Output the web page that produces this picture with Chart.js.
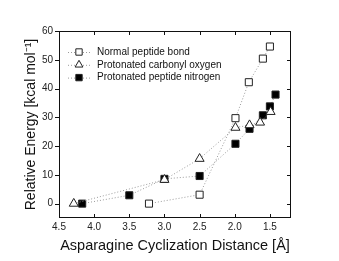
<!DOCTYPE html>
<html>
<head>
<meta charset="utf-8">
<script src="https://cdn.jsdelivr.net/npm/chart.js@4/dist/chart.umd.min.js"></script>
<style>
  html, body { margin: 0; padding: 0; background: #fff; }
  #chart { display: block; }
</style>
</head>
<body>
<canvas id="chart" width="339" height="261"></canvas>
<script>
// values
const seriesNames = ["Normal peptide bond", "Protonated carbonyl oxygen", "Protonated peptide nitrogen"];

const normalX = [3.22, 2.5, 1.99, 1.8, 1.6, 1.5];
const normalY = [0, 3.1, 29.7, 42.2, 50.4, 54.6];

const carbonylX = [4.29, 3.0, 2.5, 1.99, 1.79, 1.64, 1.49];
const carbonylY = [0, 8.3, 15.6, 26.4, 27.3, 28.2, 31.9];

const nitrogenX = [4.17, 3.5, 3.0, 2.5, 1.99, 1.79, 1.6, 1.5, 1.42];
const nitrogenY = [0, 2.9, 8.6, 9.6, 20.8, 26, 30.7, 33.8, 37.9];

const xTicks = [1.5, 2.0, 2.5, 3.0, 3.5, 4.0, 4.5];
const yTicks = [0, 10, 20, 30, 40, 50, 60];

const FONT = "'Liberation Sans', Arial, sans-serif";

function toPoints(xs, ys) {
	return xs.map((x, i) => ({ x: x, y: ys[i] }));
}

function makeSet(label, xs, ys, style, fill) {
	return {
		label: label,
		data: toPoints(xs, ys),
		showLine: true,
		borderColor: "#9a9a9a",
		borderWidth: 1,
		borderDash: [1, 2],
		pointStyle: style,
		pointRadius: style == "triangle" ? 5.2 : 5,
		pointBackgroundColor: fill,
		pointBorderColor: "#222",
		pointBorderWidth: 1
	};
}

// frame, tick marks and the legend inside the plot
const framePlugin = {
	id: "frame",
	afterDraw(chart) {
		const ctx = chart.ctx;
		const a = chart.chartArea;
		const sx = chart.scales.x;
		const sy = chart.scales.y;
		ctx.save();
		ctx.setLineDash([]);
		ctx.strokeStyle = "#111";
		ctx.lineWidth = 1;
		ctx.strokeRect(a.left + 0.5, a.top + 0.5, a.right - a.left - 1, a.bottom - a.top - 1);

		ctx.beginPath();
		xTicks.forEach((v) => {
			let px = Math.round(sx.getPixelForValue(v)) + 0.5;
			ctx.moveTo(px, a.bottom);
			ctx.lineTo(px, a.bottom - 4);
			ctx.moveTo(px, a.top);
			ctx.lineTo(px, a.top + 4);
		});
		yTicks.forEach((v) => {
			let py = Math.round(sy.getPixelForValue(v)) + 0.5;
			ctx.moveTo(a.left - 4, py);
			ctx.lineTo(a.left, py);
			ctx.moveTo(a.right - 4, py);
			ctx.lineTo(a.right, py);
		});
		ctx.stroke();

		// legend
		let rowY = a.top + 21;
		chart.data.datasets.forEach((ds) => {
			ctx.setLineDash([1, 2]);
			ctx.strokeStyle = "#9a9a9a";
			ctx.beginPath();
			ctx.moveTo(a.left + 9, rowY + 0.5);
			ctx.lineTo(a.left + 32, rowY + 0.5);
			ctx.stroke();
			ctx.setLineDash([]);
			ctx.fillStyle = ds.pointBackgroundColor;
			ctx.strokeStyle = "#222";
			ctx.lineWidth = 1;
			Chart.helpers.drawPoint(ctx, {
				pointStyle: ds.pointStyle,
				radius: 4.5,
				rotation: 0,
				borderWidth: 1
			}, a.left + 20, rowY);
			ctx.fillStyle = "#111";
			ctx.font = "10px " + FONT;
			ctx.textBaseline = "middle";
			ctx.textAlign = "left";
			ctx.fillText(ds.label, a.left + 38, rowY);
			rowY += 12.8;
		});
		ctx.restore();
	}
};

new Chart(document.getElementById("chart"), {
	type: "scatter",
	data: {
		datasets: [
			makeSet(seriesNames[0], normalX, normalY, "rect", "#fff"),
			makeSet(seriesNames[1], carbonylX, carbonylY, "triangle", "#fff"),
			makeSet(seriesNames[2], nitrogenX, nitrogenY, "rect", "#000")
		]
	},
	options: {
		responsive: false,
		devicePixelRatio: 1,
		animation: false,
		layout: { padding: { left: 10, top: 31, right: 48, bottom: 4 } },
		plugins: {
			legend: { display: false },
			tooltip: { enabled: false }
		},
		scales: {
			x: {
				type: "linear",
				reverse: true,
				min: 1.2,
				max: 4.5,
				grid: { display: false, drawTicks: false },
				border: { display: false },
				afterFit: (scale) => { scale.height = 39; },
				afterBuildTicks: (scale) => { scale.ticks = xTicks.map((v) => ({ value: v })); },
				ticks: {
					padding: 3,
					color: "#222",
					font: { family: FONT, size: 10 },
					callback: (v) => Number(v).toFixed(1)
				},
				title: {
					display: true,
					text: "Asparagine Cyclization Distance [Å]",
					color: "#111",
					font: { family: FONT, size: 14.5 },
					padding: { top: 0, bottom: 2 }
				}
			},
			y: {
				type: "linear",
				min: -5,
				max: 60,
				grid: { display: false, drawTicks: false },
				border: { display: false },
				afterFit: (scale) => { scale.width = 49; },
				afterBuildTicks: (scale) => { scale.ticks = yTicks.map((v) => ({ value: v })); },
				ticks: {
					padding: 6,
					color: "#222",
					font: { family: FONT, size: 10 }
				},
				title: {
					display: true,
					text: "Relative Energy [kcal mol⁻¹]",
					color: "#111",
					font: { family: FONT, size: 14 },
					padding: { top: 13, bottom: 0 }
				}
			}
		}
	},
	plugins: [framePlugin]
});
</script>
</body>
</html>
